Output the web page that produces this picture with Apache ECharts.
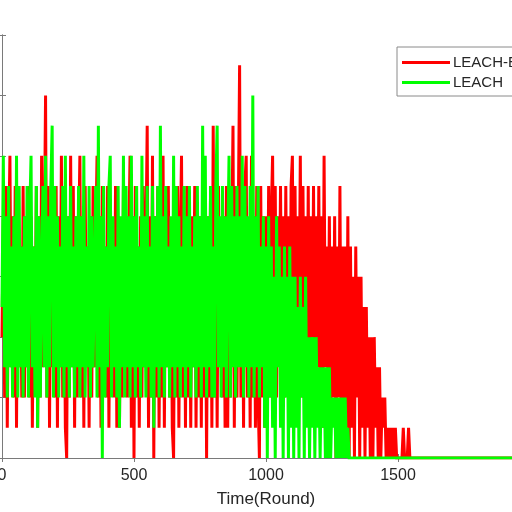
<!DOCTYPE html>
<html>
<head>
<meta charset="utf-8">
<script src="https://cdn.jsdelivr.net/npm/echarts@6/dist/echarts.min.js"></script>
<style>
    html, body { margin: 0; padding: 0; background: #fff; }
    #chart { width: 512px; height: 512px; }
</style>
</head>
<body>
<div id="chart"></div>
<script>
// one value every 5 rounds
var roundStep = 5;
var lastRound = 2000;
var xTicks = [0, 500, 1000, 1500, 2000];
var seriesNames = ['LEACH-E', 'LEACH'];

// LEACH-E (red), rounds 0 .. 1550
var leachE = [
    4,8,2,9,1,7,10,3,8,2,9,1,8,3,7,2,9,2,8,3,
    9,2,8,1,7,3,9,1,8,2,10,3,7,12,2,9,1,8,3,7,
    2,9,1,8,3,10,2,7,1,0,8,2,10,3,9,1,8,2,7,10,
    2,8,1,9,3,7,1,8,2,9,3,7,10,2,8,1,9,3,7,2,
    9,1,8,3,7,2,9,1,8,1,7,2,9,3,8,2,7,10,1,8,
    0,9,2,7,1,8,2,9,3,7,11,1,8,2,10,0,8,2,9,1,
    7,2,10,1,8,3,9,2,7,1,0,8,2,9,1,7,10,2,8,1,
    9,2,7,1,8,3,9,1,7,2,8,1,9,2,7,0,8,2,9,1,
    11,2,8,1,9,3,7,2,8,1,9,1,8,2,7,11,1,9,2,8,
    13,2,8,1,9,10,2,7,1,10,2,8,1,9,2,0,9,2,8,1,
    8,3,9,2,8,10,3,9,2,8,4,9,3,8,2,9,3,8,2,9,
    10,2,9,3,8,4,10,2,9,3,8,2,9,1,8,3,9,2,8,3,
    9,2,8,1,10,3,7,2,8,1,7,2,8,0,7,2,9,1,7,0,
    7,1,8,0,7,1,6,0,7,2,6,0,6,1,5,0,5,1,4,0,
    4,0,4,1,3,0,3,0,2,1,2,0,1,0,1,0,1,0,1,0,
    0,0,0,0,1,0,0,0,1,0,0
];

// LEACH (green), rounds 0 .. 1315
var leach = [
    5,10,3,8,2,9,3,7,2,8,3,10,2,9,3,7,2,8,3,9,
    2,8,10,3,7,2,9,1,8,2,6,9,3,10,2,8,3,9,11,2,
    9,3,8,2,7,3,9,2,10,3,8,2,9,3,7,2,8,3,9,2,
    8,3,10,2,7,3,9,2,8,3,6,9,2,11,3,8,0,9,2,7,
    3,9,10,2,8,3,7,2,9,1,8,3,10,2,9,3,8,2,10,3,
    8,2,9,3,7,2,10,3,8,2,9,3,7,2,9,1,8,3,9,2,
    11,3,8,2,9,3,7,2,8,3,10,2,9,3,8,2,7,3,9,2,
    8,3,9,2,7,3,8,2,9,3,8,2,11,3,10,2,8,3,9,2,
    7,2,9,11,3,8,2,9,3,8,2,7,10,2,9,3,8,2,9,3,
    8,3,10,2,9,3,8,2,9,3,12,2,8,3,9,2,7,3,8,1,
    7,0,8,2,7,1,6,0,8,3,7,1,6,0,7,2,6,0,7,1,
    6,0,6,1,5,0,6,2,5,0,6,1,4,0,4,1,4,0,4,1,
    3,0,3,1,3,0,3,0,3,0,2,1,2,0,2,0,2,0,2,0,2,0,1,0
];

var toPairs = function (values) {
    var res = [];
    for (var i = 0; i < values.length; i++) {
        res.push([i * roundStep, values[i]]);
    }
    // flat at zero after the last node dies
    res.push([lastRound, 0]);
    return res;
};

var axisColor = '#7a7a7a';
var textColor = '#262626';
var font = 'Liberation Sans, Arial, sans-serif';

var myChart = echarts.init(document.getElementById('chart'));
var option = {
    animation: false,
    backgroundColor: '#fff',
    grid: {
        left: 2,
        top: 35,
        width: 528,
        height: 423,
        containLabel: false,
        outerBoundsMode: 'none'
    },
    legend: {
        data: seriesNames,
        orient: 'vertical',
        left: 397,
        top: 47,
        icon: 'rect',
        itemWidth: 48,
        itemHeight: 3,
        itemGap: 5,
        padding: [8, 40, 6, 5],
        backgroundColor: '#fff',
        borderColor: '#8a8a8a',
        borderWidth: 1,
        borderRadius: 0,
        textStyle: {
            fontFamily: font,
            fontSize: 15,
            color: textColor,
            padding: [0, 0, 0, -2]
        }
    },
    xAxis: [
        {
            type: 'value',
            min: 0,
            max: lastRound,
            interval: 500,
            name: 'Time(Round)',
            nameLocation: 'middle',
            nameGap: 33,
            nameTextStyle: { fontFamily: font, fontSize: 17, color: textColor },
            axisLine: { show: true, lineStyle: { color: axisColor, width: 1 } },
            axisTick: { show: true, inside: true, length: 4, lineStyle: { color: axisColor } },
            axisLabel: {
                fontFamily: font,
                fontSize: 16,
                color: textColor,
                margin: 10,
                formatter: function (v) {
                    return xTicks.indexOf(v) >= 0 ? String(v) : '';
                }
            },
            splitLine: { show: false }
        },
        {
            type: 'value',
            position: 'top',
            min: 0,
            max: lastRound,
            interval: 500,
            axisLine: { show: true, lineStyle: { color: axisColor, width: 1 } },
            axisTick: { show: true, inside: true, length: 4, lineStyle: { color: axisColor } },
            axisLabel: { show: false },
            splitLine: { show: false }
        }
    ],
    yAxis: [
        {
            type: 'value',
            min: 0,
            max: 14,
            interval: 2,
            axisLine: { show: true, lineStyle: { color: axisColor, width: 1 } },
            axisTick: { show: true, inside: true, length: 4, lineStyle: { color: axisColor } },
            axisLabel: { show: false },
            splitLine: { show: false }
        },
        {
            type: 'value',
            position: 'right',
            min: 0,
            max: 14,
            interval: 2,
            axisLine: { show: true, lineStyle: { color: axisColor, width: 1 } },
            axisTick: { show: true, inside: true, length: 4, lineStyle: { color: axisColor } },
            axisLabel: { show: false },
            splitLine: { show: false }
        }
    ],
    series: [
        {
            name: seriesNames[0],
            type: 'line',
            data: toPairs(leachE),
            showSymbol: false,
            symbol: 'none',
            sampling: null,
            color: '#ff0000',
            lineStyle: { color: '#ff0000', width: 3, join: 'miter' },
            z: 2
        },
        {
            name: seriesNames[1],
            type: 'line',
            data: toPairs(leach),
            showSymbol: false,
            symbol: 'none',
            sampling: null,
            color: '#00ff00',
            lineStyle: { color: '#00ff00', width: 3, join: 'miter' },
            z: 3
        }
    ]
};
myChart.setOption(option);
</script>
</body>
</html>
